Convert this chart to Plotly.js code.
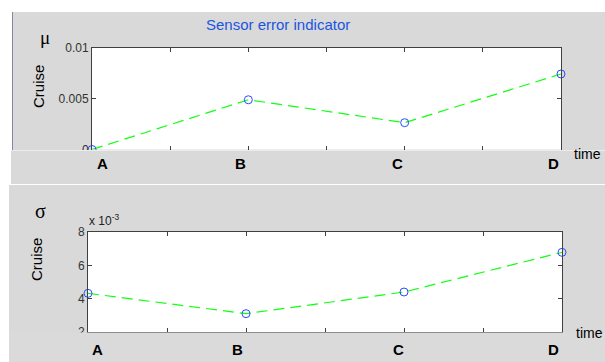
<!DOCTYPE html>
<html>
<head>
<meta charset="utf-8">
<script src="https://cdn.plot.ly/plotly-3.0.1.min.js"></script>
<style>html,body{margin:0;padding:0;background:#fff;}#chart{width:605px;height:362px;}</style>
</head>
<body>
<div id="chart"></div>
<script>
// ---- data ----
var categories = ['A', 'B', 'C', 'D'];
var timePos = [0, 2, 4, 6];
var muCruise = [0, 0.0049, 0.00264, 0.00744];
var sigmaCruise = [4.32, 3.10, 4.40, 6.78];   // x 10^-3
var muTickVals = [0, 0.005, 0.01];
var muTickText = ['0', '0.005', '0.01'];
var sigmaTickVals = [2, 4, 6, 8];
var sigmaTickText = ['2', '4', '6', '8'];

var W = 605, H = 362;
function px(x) { return x / W; }
function py(y) { return 1 - y / H; }

var GRAY = '#d9d9d9';
var lineStyle = {color: '#11ff11', width: 1.2, dash: '11px,6px'};
var markerStyle = {symbol: 'circle-open', size: 8, color: '#2a4bff', line: {width: 1, color: '#2a4bff'}};

var traces = [
  {x: timePos, y: muCruise, xaxis: 'x', yaxis: 'y', mode: 'lines+markers',
   line: lineStyle, marker: markerStyle, cliponaxis: false, showlegend: false},
  {x: timePos, y: sigmaCruise, xaxis: 'x2', yaxis: 'y2', mode: 'lines+markers',
   line: lineStyle, marker: markerStyle, cliponaxis: false, showlegend: false}
];

var axCommon = {
  showgrid: false, zeroline: false, showline: true, linecolor: '#404040', linewidth: 1,
  mirror: 'ticks', ticks: 'inside', ticklen: 4, tickcolor: '#404040',
  tickfont: {family: 'Liberation Sans, Arial, sans-serif', size: 12, color: '#333'}
};

function ax(extra) { return Object.assign({}, axCommon, extra); }

var annFont = {family: 'Liberation Sans, Arial, sans-serif', size: 15, color: '#000'};
var annotations = [];
var topLabelShift = [11, -8, -7, -8];
var botLabelShift = [9, -9, -6, -9];
categories.forEach(function (c, i) {
  annotations.push({text: '<b>' + c + '</b>', x: timePos[i], xref: 'x', y: py(164), yref: 'paper',
    xshift: topLabelShift[i], showarrow: false, font: annFont, xanchor: 'center', yanchor: 'middle'});
  annotations.push({text: '<b>' + c + '</b>', x: timePos[i], xref: 'x2', y: py(349), yref: 'paper',
    xshift: botLabelShift[i], showarrow: false, font: annFont, xanchor: 'center', yanchor: 'middle'});
});
var txtFont = {family: 'Liberation Sans, Arial, sans-serif', size: 14, color: '#000'};
function note(o) { return Object.assign({xref: 'paper', yref: 'paper', xanchor: 'center', yanchor: 'middle', showarrow: false}, o); }
annotations.push(
  note({text: 'time', x: px(572), y: py(154), xanchor: 'left', font: txtFont}),
  note({text: 'time', x: px(574), y: py(333), xanchor: 'left', font: txtFont}),
  note({text: 'Cruise', x: px(38), y: py(87), textangle: -90,
   font: {family: 'Liberation Sans, Arial, sans-serif', size: 15, color: '#000'}}),
  note({text: 'Cruise', x: px(36), y: py(260), textangle: -90,
   font: {family: 'Liberation Sans, Arial, sans-serif', size: 15, color: '#000'}}),
  note({text: 'μ', x: px(45), y: py(38),
   font: {family: 'Liberation Serif, Times New Roman, serif', size: 19, color: '#000'}}),
  note({text: 'σ', x: px(40), y: py(211),
   font: {family: 'Liberation Serif, Times New Roman, serif', size: 20, color: '#000'}}),
  note({text: 'x 10<sup>-3</sup>', x: px(87), y: py(220), xanchor: 'left',
   font: {family: 'Liberation Sans, Arial, sans-serif', size: 12, color: '#222'}}),
  note({text: 'Sensor error indicator', x: px(278), y: py(25),
   font: {family: 'Liberation Sans, Arial, sans-serif', size: 15, color: '#1a55e0'}})
);

function rect(x0, y0, x1, y1, color, layer) {
  return {type: 'rect', xref: 'paper', yref: 'paper', x0: px(x0), x1: px(x1), y0: py(y1), y1: py(y0),
    fillcolor: color, line: {width: 0}, layer: layer};
}
var shapes = [
  rect(0, 0, 605, 12, '#ffffff', 'below'),
  rect(0, 12, 12, 150, '#ffffff', 'below'),
  {type: 'line', xref: 'paper', yref: 'paper', x0: px(12.5), x1: px(12.5), y0: py(150), y1: py(12),
   line: {color: '#8585a5', width: 1}, layer: 'below'},
  rect(0, 150, 605, 184, '#ffffff', 'above'),
  rect(11, 150.4, 605, 184, GRAY, 'above'),
  rect(0, 184, 605, 185, '#ffffff', 'above'),
  rect(0, 185, 9, 362, '#ffffff', 'below'),
  rect(9, 332.6, 605, 362, '#dadada', 'above')
];

var layout = {
  width: W, height: H,
  margin: {l: 0, r: 0, t: 0, b: 0},
  paper_bgcolor: GRAY, plot_bgcolor: '#ffffff',
  showlegend: false,
  xaxis: ax({domain: [px(92), px(561)], range: [0, 6], dtick: 1, tick0: 0, showticklabels: false, anchor: 'y'}),
  yaxis: ax({domain: [py(149.5), py(48)], range: [0, 0.01], tickvals: muTickVals, ticktext: muTickText, anchor: 'x'}),
  xaxis2: ax({domain: [px(88), px(562)], range: [0, 6], dtick: 1, tick0: 0, showticklabels: false, anchor: 'y2'}),
  yaxis2: ax({domain: [py(332), py(232)], range: [2, 8], tickvals: sigmaTickVals, ticktext: sigmaTickText, anchor: 'x2'}),
  annotations: annotations,
  shapes: shapes
};

Plotly.newPlot('chart', traces, layout, {staticPlot: true, displayModeBar: false});
</script>
</body>
</html>
